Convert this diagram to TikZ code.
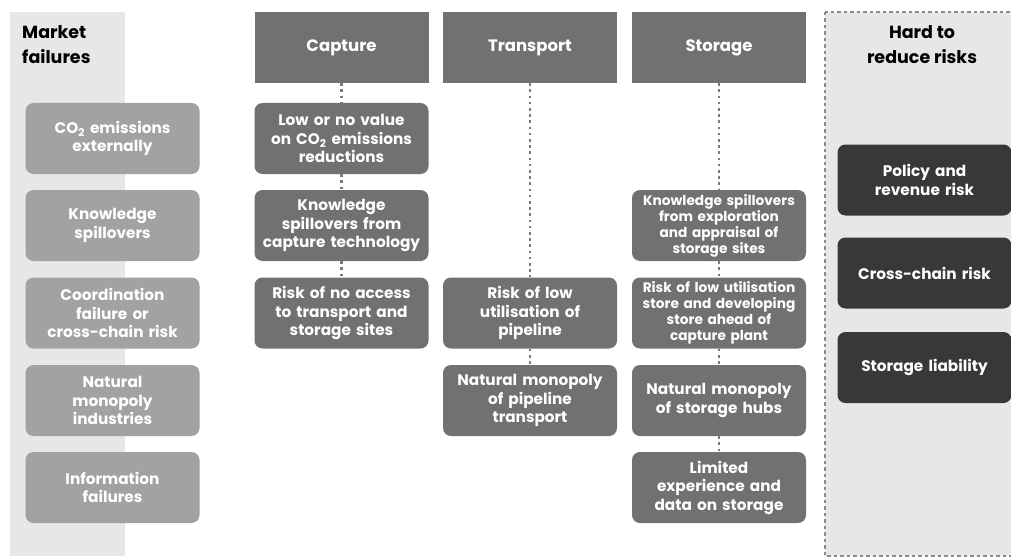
\documentclass[tikz,border=0pt]{standalone}
\usepackage{fontspec}
\setmainfont{Poppins}
\begin{document}
\begin{tikzpicture}[x=1pt,y=-1pt,
  box/.style={rounded corners=8pt, minimum width=174pt, minimum height=71pt,
    text width=172pt, align=center, text=white, inner sep=0pt,
    font=\fontsize{15.3}{18.5}\selectfont\bfseries},
  failbox/.style={box, fill=fgray},
  stagebox/.style={box, rounded corners=0pt, fill=mgray, font=\fontsize{16.5}{20}\selectfont\bfseries},
  riskbox/.style={box, fill=mgray},
  smallrisk/.style={riskbox, font=\fontsize{13.7}{16}\selectfont\bfseries},
  hardbox/.style={box, fill=dgray},
  title/.style={font=\fontsize{17.5}{25}\selectfont\bfseries, text=black, inner sep=0pt},
  dotline/.style={draw=lgray, line width=2.6pt, dash pattern=on 2.6pt off 3.6pt},
]
\definecolor{fgray}{HTML}{A2A2A2}
\definecolor{mgray}{HTML}{717171}
\definecolor{dgray}{HTML}{383838}
\definecolor{lgray}{HTML}{7A7A7A}
\definecolor{panel}{HTML}{E7E7E7}
\definecolor{border}{HTML}{8A8A8A}
\useasboundingbox (0,0) rectangle (1011,559);

% side panels
\fill[panel] (10,12) rectangle (125,556);
\draw[border, fill=panel, line width=2pt, dash pattern=on 3.5pt off 3pt]
  (825,12) rectangle (1020,556);

% titles
\node[title, anchor=north west, align=left] (mf) at (22,25) {Market\\failures};
\node[title, anchor=north, align=center] (hr) at (922,25) {Hard to\\reduce risks};

% market failures
\node[failbox] (f1) at (112.5,138.5) {CO\textsubscript{2} emissions\\externally};
\node[failbox] (f2) at (112.5,225.5) {Knowledge\\spillovers};
\node[failbox] (f3) at (112.5,313) {Coordination\\failure or\\cross-chain risk};
\node[failbox] (f4) at (112.5,400.5) {Natural\\monopoly\\industries};
\node[failbox] (f5) at (112.5,487.5) {Information\\failures};

% chain stages
\node[stagebox] (cap) at (341.5,47.5) {Capture};
\node[stagebox] (tra) at (530,47.5) {Transport};
\node[stagebox] (sto) at (719,47.5) {Storage};

% capture risks
\node[riskbox] (c1) at (341.5,138.5) {Low or no value\\on CO\textsubscript{2} emissions\\reductions};
\node[riskbox] (c2) at (341.5,225.5) {Knowledge\\spillovers from\\capture technology};
\node[riskbox] (c3) at (341.5,313) {Risk of no access\\to transport and\\storage sites};

% transport risks
\node[riskbox] (t1) at (530,313) {Risk of low\\utilisation of\\pipeline};
\node[riskbox] (t2) at (530,400.5) {Natural monopoly\\of pipeline\\transport};

% storage risks
\node[smallrisk] (s1) at (719,225.5) {Knowledge spillovers\\from exploration\\and appraisal of\\storage sites};
\node[smallrisk] (s2) at (719,313) {Risk of low utilisation\\store and developing\\store ahead of\\capture plant};
\node[riskbox] (s3) at (719,400.5) {Natural monopoly\\of storage hubs};
\node[riskbox] (s4) at (719,487.5) {Limited\\experience and\\data on storage};

% hard to reduce risks
\node[hardbox] (h1) at (924.5,180) {Policy and\\revenue risk};
\node[hardbox] (h2) at (924.5,273) {Cross-chain risk};
\node[hardbox] (h3) at (924.5,367.5) {Storage liability};

% dotted links down each chain
\draw[dotline] (cap.south) -- (c1.north);
\draw[dotline] (c1.south) -- (c2.north);
\draw[dotline] (c2.south) -- (c3.north);
\draw[dotline] (tra.south) -- (t1.north);
\draw[dotline] (t1.south) -- (t2.north);
\draw[dotline] (sto.south) -- (s1.north);
\draw[dotline] (s1.south) -- (s2.north);
\draw[dotline] (s2.south) -- (s3.north);
\draw[dotline] (s3.south) -- (s4.north);
\end{tikzpicture}
\end{document}
